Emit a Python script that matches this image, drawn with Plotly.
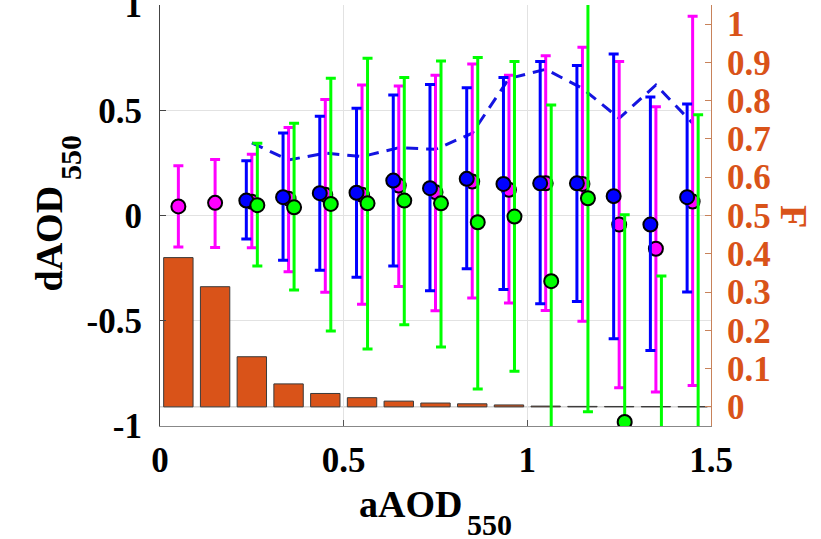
import plotly.graph_objects as go

# ---- data ----
aod_bins = [0.05, 0.15, 0.25, 0.35, 0.45, 0.55, 0.65, 0.75, 0.85, 0.95, 1.05, 1.15, 1.25, 1.35, 1.45]
frac = [0.39, 0.314, 0.131, 0.060, 0.035, 0.024, 0.015, 0.010, 0.008, 0.005, 0.002, 0.0012, 0.001, 0.0008, 0.0006]

dash_bins = aod_bins[2:]
dash_F = [0.69, 0.645, 0.663, 0.654, 0.677, 0.673, 0.715, 0.858, 0.882, 0.832, 0.754, 0.841, 0.741]

mag_bins = aod_bins
mag_mean = [0.043, 0.060, 0.065, 0.080, 0.098, 0.098, 0.142, 0.111, 0.161, 0.122, 0.153, 0.150, -0.043, -0.158, 0.066]
mag_hi = [0.236, 0.266, 0.291, 0.418, 0.551, 0.620, 0.615, 0.666, 0.720, 0.666, 0.759, 0.799, 0.731, 0.517, 0.946]
mag_lo = [-0.150, -0.152, -0.153, -0.267, -0.365, -0.422, -0.337, -0.452, -0.392, -0.416, -0.451, -0.502, -0.818, -0.839, -0.808]

blue_bins = aod_bins[2:]
blue_mean = [0.071, 0.087, 0.106, 0.108, 0.166, 0.130, 0.174, 0.150, 0.153, 0.153, 0.092, -0.043, 0.087]
blue_hi = [0.260, 0.392, 0.471, 0.509, 0.573, 0.622, 0.607, 0.656, 0.731, 0.712, 0.767, 0.563, 0.530]
blue_lo = [-0.112, -0.212, -0.260, -0.293, -0.240, -0.357, -0.253, -0.351, -0.419, -0.408, -0.585, -0.641, -0.364]

green_bins = aod_bins[2:]
green_mean = [0.049, 0.039, 0.055, 0.058, 0.071, 0.058, -0.032, -0.005, -0.312, 0.082, -0.981, -1.15, -1.10]
green_hi = [0.343, 0.438, 0.652, 0.747, 0.655, 0.734, 0.751, 0.731, 0.525, 1.10, 0.003, -0.288, 0.479]
green_lo = [-0.240, -0.354, -0.549, -0.634, -0.519, -0.625, -0.824, -0.740, -1.10, -0.932, -1.10, -1.30, -1.30]

x_ticks = [0, 0.5, 1, 1.5]
x_ticktext = ['0', '0.5', '1', '1.5']
y_ticks = [-1, -0.5, 0, 0.5, 1]
y_ticktext = ['-1', '-0.5', '0', '0.5', '1']
f_ticks = [0, 0.1, 0.2, 0.3, 0.4, 0.5, 0.6, 0.7, 0.8, 0.9, 1.0]
f_ticktext = ['0', '0.1', '0.2', '0.3', '0.4', '0.5', '0.6', '0.7', '0.8', '0.9', '1']

OFFSET = 0.015
ORANGE = '#D95319'
FONT = 'Liberation Serif, Times New Roman, serif'

fig = go.Figure()

fig.add_bar(x=aod_bins, y=frac, width=0.08, yaxis='y',
            marker=dict(color=ORANGE, line=dict(color='#3a3a3a', width=1)),
            showlegend=False)

fig.add_scatter(x=dash_bins, y=dash_F, yaxis='y', mode='lines',
                line=dict(color='#1414e0', width=3, dash='12px,8px'), showlegend=False)


def err_trace(xs, mean, hi, lo, color, shift):
    return go.Scatter(
        x=[v + shift for v in xs], y=mean, yaxis='y2', mode='markers',
        marker=dict(size=14, color=color, line=dict(color='black', width=2)),
        error_y=dict(type='data', symmetric=False,
                     array=[h - m for h, m in zip(hi, mean)],
                     arrayminus=[m - l for m, l in zip(mean, lo)],
                     color=color, thickness=3, width=5),
        showlegend=False)


fig.add_trace(err_trace(mag_bins, mag_mean, mag_hi, mag_lo, '#ff00ff', 0.0))
fig.add_trace(err_trace(blue_bins, blue_mean, blue_hi, blue_lo, '#0000ff', -OFFSET))
fig.add_trace(err_trace(green_bins, green_mean, green_hi, green_lo, '#00ff00', OFFSET))

tickfont_black = dict(family=FONT, size=35, color='black', weight='bold')
tickfont_orange = dict(family=FONT, size=35, color=ORANGE, weight='bold')

# plot area in pixels: x 160..711, y 5..426
L, R, T, B = 160, 110, 5, 113
PW, PH = 821 - L - R, 539 - T - B


def px(xp):
    return (xp - L) / PW


def py(yp):
    return (539 - B - yp) / PH


fig.update_layout(
    width=821, height=539,
    margin=dict(l=L, r=R, t=T, b=B, autoexpand=False),
    paper_bgcolor='white', plot_bgcolor='white',
    font=dict(family=FONT),
    showlegend=False,
    xaxis=dict(range=[0, 1.5], tickvals=x_ticks, ticktext=x_ticktext,
               showgrid=True, gridcolor='#e2e2e2', gridwidth=1, zeroline=False,
               ticks='inside', ticklen=6, tickcolor='#555',
               showline=True, linecolor='#888', linewidth=1, automargin=False,
               tickfont=tickfont_black, ticklabelstandoff=3),
    yaxis=dict(side='right', range=[-0.05, 1.05], tickvals=f_ticks, ticktext=f_ticktext,
               showgrid=False, zeroline=False, automargin=False,
               ticks='inside', ticklen=6, tickcolor='#c8825a',
               showline=True, linecolor='#c8825a', linewidth=1,
               tickfont=tickfont_orange, ticklabelstandoff=8),
    yaxis2=dict(overlaying='y', side='left', range=[-1, 1], tickvals=y_ticks, ticktext=y_ticktext,
                showgrid=True, gridcolor='#e2e2e2', gridwidth=1, zeroline=False,
                ticks='inside', ticklen=6, tickcolor='#444', automargin=False,
                showline=True, linecolor='#444', linewidth=1,
                tickfont=tickfont_black, ticklabelstandoff=10,
                ticklabeloverflow='allow'),
    shapes=[
        dict(type='line', xref='paper', x0=0, x1=1, yref='y', y0=0, y1=0,
             line=dict(color='#c0c0c0', width=1), layer='between'),
        dict(type='line', xref='paper', x0=0, x1=1, yref='y2', y0=0, y1=0,
             line=dict(color='#222', width=1, dash='7px,5px'), layer='between'),
    ],
    annotations=[
        dict(text='<b>aAOD</b>', xref='paper', yref='paper', x=px(410.5), y=py(504),
             xanchor='center', yanchor='middle', showarrow=False,
             font=dict(family=FONT, size=38, color='black')),
        dict(text='<b>550</b>', xref='paper', yref='paper', x=px(489), y=py(524),
             xanchor='center', yanchor='middle', showarrow=False,
             font=dict(family=FONT, size=30, color='black')),
        dict(text='<b>dAOD</b>', xref='paper', yref='paper', x=px(48.5), y=py(239),
             xanchor='center', yanchor='middle', textangle=-90, showarrow=False,
             font=dict(family=FONT, size=38, color='black')),
        dict(text='<b>550</b>', xref='paper', yref='paper', x=px(70), y=py(158),
             xanchor='center', yanchor='middle', textangle=-90, showarrow=False,
             font=dict(family=FONT, size=30, color='black')),
        dict(text='<b>F</b>', xref='paper', yref='paper', x=px(794), y=py(216),
             xanchor='center', yanchor='middle', textangle=90, showarrow=False,
             font=dict(family=FONT, size=38, color=ORANGE)),
    ],
)

fig.write_html('out.html')
